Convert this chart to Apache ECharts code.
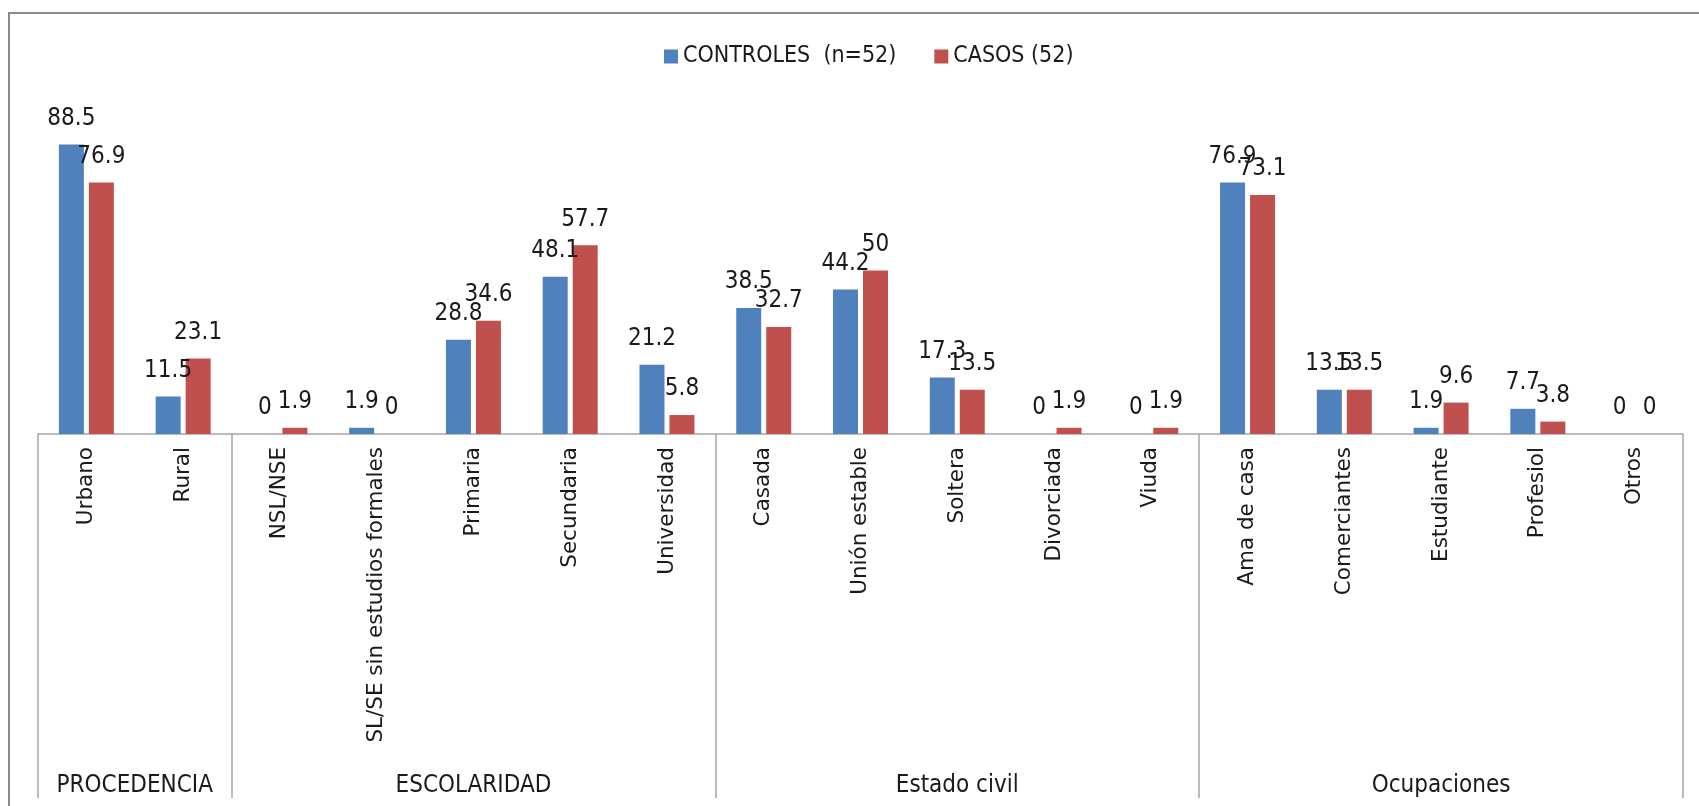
<!DOCTYPE html>
<html>
<head>
<meta charset="utf-8">
<script src="https://cdn.jsdelivr.net/npm/echarts@6/dist/echarts.min.js"></script>
<style>
  html, body { margin: 0; padding: 0; background: #fff; }
  #chart { width: 1699px; height: 806px; }
</style>
</head>
<body>
<div id="chart"></div>
<script>
// Categories, grouped by variable
const categories = [
  'Urbano', 'Rural',
  'NSL/NSE', 'SL/SE sin estudios formales', 'Primaria', 'Secundaria', 'Universidad',
  'Casada', 'Unión estable', 'Soltera', 'Divorciada', 'Viuda',
  'Ama de casa', 'Comerciantes', 'Estudiante', 'Profesiol', 'Otros'
];
const groupNames = ['PROCEDENCIA', 'ESCOLARIDAD', 'Estado civil', 'Ocupaciones'];
const groupSizes = [2, 5, 5, 5];

// Percentages per category
const controles = [88.5, 11.5, 0, 1.9, 28.8, 48.1, 21.2, 38.5, 44.2, 17.3, 0, 0, 76.9, 13.5, 1.9, 7.7, 0];
const casos     = [76.9, 23.1, 1.9, 0, 34.6, 57.7, 5.8, 32.7, 50, 13.5, 1.9, 1.9, 73.1, 13.5, 9.6, 3.8, 0];

const seriesNames = ['CONTROLES  (n=52)', 'CASOS (52)'];

// Group boundaries and centres on a 0..N scale matching the category slots
const boundaries = [0];
const centres = [];
groupSizes.forEach(function (s) {
  const start = boundaries[boundaries.length - 1];
  centres.push(start + s / 2);
  boundaries.push(start + s);
});

const labelFont = "'DejaVu Sans Condensed', 'Liberation Sans Narrow', 'DejaVu Sans', sans-serif";
const axisGray = '#a6a6a6';

const chart = echarts.init(document.getElementById('chart'), null, { renderer: 'canvas' });

const barLabel = {
  show: true,
  position: 'top',
  distance: 14,
  fontFamily: labelFont,
  fontSize: 24,
  color: '#1a1a1a'
};

chart.setOption({
  animation: false,
  backgroundColor: '#fff',
  graphic: [{
    type: 'rect',
    shape: { x: 9, y: 13, width: 1720, height: 820 },
    style: { fill: 'none', stroke: '#8c8c8c', lineWidth: 2 },
    silent: true
  }],
  legend: {
    left: 659,
    top: 40,
    itemWidth: 14,
    itemHeight: 14,
    itemGap: 38,
    icon: 'rect',
    textStyle: { fontFamily: labelFont, fontSize: 23, color: '#1a1a1a' },
    data: seriesNames
  },
  grid: { left: 38, right: 16, top: 107, bottom: 372, containLabel: false },
  xAxis: [{
    type: 'category',
    data: categories,
    axisLine: { lineStyle: { color: axisGray, width: 1.5 } },
    axisTick: { show: false },
    axisLabel: {
      interval: 0,
      rotate: 90,
      margin: 13,
      fontFamily: "'DejaVu Sans', Verdana, sans-serif",
      fontSize: 21.5,
      color: '#1a1a1a'
    }
  }, {
    type: 'value',
    min: 0,
    max: categories.length,
    position: 'bottom',
    axisLine: { show: false },
    splitLine: { show: false },
    axisTick: {
      show: true,
      inside: false,
      length: 364,
      customValues: boundaries,
      lineStyle: { color: axisGray, width: 1.5 }
    },
    axisLabel: {
      customValues: centres,
      margin: 340,
      fontFamily: labelFont,
      fontSize: 24,
      color: '#1a1a1a',
      formatter: function (v) {
        const i = centres.indexOf(v);
        return i >= 0 ? groupNames[i] : '';
      }
    }
  }],
  yAxis: {
    type: 'value',
    min: 0,
    max: 100,
    show: false,
    splitLine: { show: false }
  },
  series: [{
    name: seriesNames[0],
    type: 'bar',
    data: controles,
    barWidth: 25,
    barGap: '20%',
    itemStyle: { color: '#4F81BD' },
    label: barLabel
  }, {
    name: seriesNames[1],
    type: 'bar',
    data: casos,
    barWidth: 25,
    barGap: '20%',
    itemStyle: { color: '#C0504D' },
    label: barLabel
  }]
});
</script>
</body>
</html>
